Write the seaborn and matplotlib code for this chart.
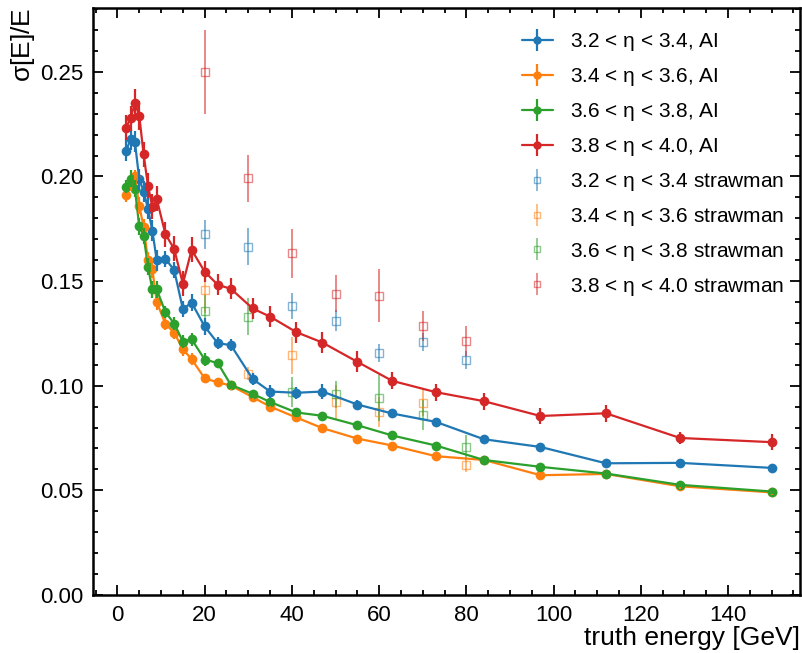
import numpy as np
import pandas as pd
import matplotlib
matplotlib.use("Agg")
import matplotlib.pyplot as plt
from matplotlib.lines import Line2D
from matplotlib.ticker import MultipleLocator, FormatStrFormatter
import seaborn as sns

# ---------------- data ----------------
energy_ai = [2, 3, 4, 5, 6, 7, 8, 9, 11, 13, 15, 17, 20, 23, 26, 31, 35, 41, 47, 55,
             63, 73, 84, 97, 112, 129, 150]

res_eta32 = [0.2124, 0.2177, 0.2165, 0.1987, 0.1928, 0.1845, 0.1741, 0.1600, 0.1606,
             0.1553, 0.1366, 0.1397, 0.1283, 0.1203, 0.1194, 0.1032, 0.0972, 0.0966,
             0.0972, 0.0910, 0.0867, 0.0827, 0.0744, 0.0707, 0.0629, 0.0631, 0.0607]
err_eta32 = [0.005, 0.005, 0.005, 0.005, 0.005, 0.005, 0.005, 0.005, 0.004, 0.004,
             0.004, 0.004, 0.004, 0.003, 0.003, 0.003, 0.003, 0.003, 0.0035, 0.002,
             0.002, 0.002, 0.002, 0.002, 0.002, 0.002, 0.002]

res_eta34 = [0.1909, 0.1960, 0.2003, 0.1860, 0.1758, 0.1600, 0.1557, 0.1400, 0.1295,
             0.1254, 0.1174, 0.1127, 0.1035, 0.1016, 0.1001, 0.0945, 0.0900, 0.0848,
             0.0797, 0.0747, 0.0714, 0.0663, 0.0645, 0.0572, 0.0578, 0.0519, 0.0490]
err_eta34 = [0.003, 0.003, 0.003, 0.004, 0.004, 0.004, 0.004, 0.004, 0.003, 0.003,
             0.003, 0.003, 0.002, 0.002, 0.002, 0.002, 0.002, 0.002, 0.002, 0.0015,
             0.0015, 0.0015, 0.0015, 0.0015, 0.0012, 0.0012, 0.0012]

res_eta36 = [0.1952, 0.1989, 0.1941, 0.1761, 0.1716, 0.1568, 0.1461, 0.1460, 0.1352,
             0.1297, 0.1211, 0.1222, 0.1125, 0.1108, 0.1004, 0.0961, 0.0922, 0.0872,
             0.0856, 0.0811, 0.0762, 0.0714, 0.0645, 0.0612, 0.0580, 0.0526, 0.0494]
err_eta36 = [0.003, 0.004, 0.004, 0.004, 0.004, 0.004, 0.004, 0.004, 0.003, 0.003,
             0.003, 0.003, 0.003, 0.002, 0.002, 0.002, 0.002, 0.002, 0.002, 0.0015,
             0.0015, 0.0015, 0.0015, 0.0015, 0.0012, 0.0012, 0.0012]

res_eta38 = [0.2234, 0.2279, 0.2350, 0.2291, 0.2105, 0.1955, 0.1855, 0.1893, 0.1724,
             0.1654, 0.1487, 0.1649, 0.1545, 0.1482, 0.1463, 0.1369, 0.1330, 0.1256,
             0.1206, 0.1114, 0.1023, 0.0969, 0.0926, 0.0855, 0.0868, 0.0750, 0.0730]
err_eta38 = [0.006, 0.006, 0.007, 0.007, 0.006, 0.006, 0.006, 0.006, 0.006, 0.006,
             0.006, 0.006, 0.005, 0.005, 0.005, 0.005, 0.005, 0.005, 0.005, 0.005,
             0.004, 0.004, 0.004, 0.0036, 0.004, 0.003, 0.0038]

energy_straw = [20, 30, 40, 50, 60, 70, 80]
straw_eta32 = [0.1724, 0.1665, 0.1381, 0.1310, 0.1157, 0.1208, 0.1122]
straw_err32 = [0.007, 0.009, 0.006, 0.005, 0.0042, 0.0044, 0.0044]
straw_eta34 = [0.1458, 0.1058, 0.1146, 0.0921, 0.0875, 0.0918, 0.0621]
straw_err34 = [0.011, 0.003, 0.0088, 0.0084, 0.0072, 0.0064, 0.0036]
straw_eta36 = [0.1357, 0.1330, 0.0969, 0.0959, 0.0943, 0.0859, 0.0706]
straw_err36 = [0.0075, 0.009, 0.0072, 0.0064, 0.011, 0.0072, 0.006]
straw_eta38 = [0.2499, 0.1992, 0.1633, 0.1440, 0.1429, 0.1284, 0.1213]
straw_err38 = [0.020, 0.0112, 0.0116, 0.0089, 0.0127, 0.0071, 0.0070]

ai_labels = [r"3.2 < $\eta$ < 3.4, AI", r"3.4 < $\eta$ < 3.6, AI",
             r"3.6 < $\eta$ < 3.8, AI", r"3.8 < $\eta$ < 4.0, AI"]
straw_labels = [r"3.2 < $\eta$ < 3.4 strawman", r"3.4 < $\eta$ < 3.6 strawman",
                r"3.6 < $\eta$ < 3.8 strawman", r"3.8 < $\eta$ < 4.0 strawman"]

xlabel = "truth energy [GeV]"
ylabel = r"$\sigma$[E]/E"

# ---------------- style ----------------
sns.set_theme(style="ticks")
plt.rcParams["font.family"] = ["Liberation Sans", "DejaVu Sans"]
plt.rcParams["mathtext.fontset"] = "custom"
plt.rcParams["mathtext.rm"] = "Liberation Sans"
plt.rcParams["mathtext.it"] = "Liberation Sans"
plt.rcParams["mathtext.default"] = "regular"
for k in ["text.color", "axes.labelcolor", "xtick.color", "ytick.color",
          "axes.edgecolor"]:
    plt.rcParams[k] = "black"

colors = sns.color_palette("tab10", 4)

ai_res = [res_eta32, res_eta34, res_eta36, res_eta38]
ai_err = [err_eta32, err_eta34, err_eta36, err_eta38]
st_res = [straw_eta32, straw_eta34, straw_eta36, straw_eta38]
st_err = [straw_err32, straw_err34, straw_err36, straw_err38]

df_ai = pd.concat([
    pd.DataFrame({"energy": energy_ai, "res": r, "err": e, "series": lab})
    for r, e, lab in zip(ai_res, ai_err, ai_labels)
], ignore_index=True)

fig = plt.figure(figsize=(8.02, 6.53), dpi=100)
ax = fig.add_axes([0.116, 0.089, 0.9975 - 0.116, 0.988 - 0.089])

sns.lineplot(data=df_ai, x="energy", y="res", hue="series", palette=colors,
             marker="o", markersize=7, markeredgewidth=0, linewidth=1.6,
             errorbar=None, legend=False, ax=ax, zorder=3)

for (lab, sub), c in zip(df_ai.groupby("series", sort=False), colors):
    ax.errorbar(sub["energy"], sub["res"], yerr=sub["err"], fmt="none",
                ecolor=c, elinewidth=1.6, capsize=0, zorder=3)

for r, e, c in zip(st_res, st_err, colors):
    ax.errorbar(energy_straw, r, yerr=e, fmt="s", mfc="none", mec=c, ms=5.5,
                mew=1.0, ecolor=c, elinewidth=1.4, alpha=0.55, zorder=2)

# legend
handles = []
for c in colors:
    handles.append((Line2D([], [], color=c, marker="o", ms=6, mew=0, lw=1.6),
                    Line2D([], [], color=c, marker="|", ms=16, mew=1.6, ls="none")))
for c in colors:
    handles.append((Line2D([], [], color=c, marker="s", ms=5, mfc="none", mew=1.0,
                           ls="none", alpha=0.55),
                    Line2D([], [], color=c, marker="|", ms=16, mew=1.3, ls="none",
                           alpha=0.55)))
leg = ax.legend(handles, ai_labels + straw_labels, loc="upper right",
                bbox_to_anchor=(0.998, 0.985), frameon=False, fontsize=15,
                handlelength=1.5, labelspacing=0.62, handletextpad=0.8,
                borderaxespad=0.3)

# axes
ax.set_xlim(-5.6, 156.5)
ax.set_ylim(0, 0.2806)
ax.xaxis.set_major_locator(MultipleLocator(20))
ax.xaxis.set_minor_locator(MultipleLocator(5))
ax.yaxis.set_major_locator(MultipleLocator(0.05))
ax.yaxis.set_minor_locator(MultipleLocator(0.01))
ax.yaxis.set_major_formatter(FormatStrFormatter("%.2f"))
ax.tick_params(which="both", direction="in", top=True, right=True,
               labelsize=16, width=1.3, colors="black")
ax.tick_params(which="major", length=7.5, pad=7)
ax.tick_params(which="minor", length=3.8)
for s in ax.spines.values():
    s.set_linewidth(1.8)
    s.set_color("black")

ax.set_xlabel(xlabel, fontsize=19, loc="right", labelpad=0)
ax.set_ylabel(ylabel, fontsize=19, loc="top", labelpad=2)

fig.savefig("out.png", dpi=100)
